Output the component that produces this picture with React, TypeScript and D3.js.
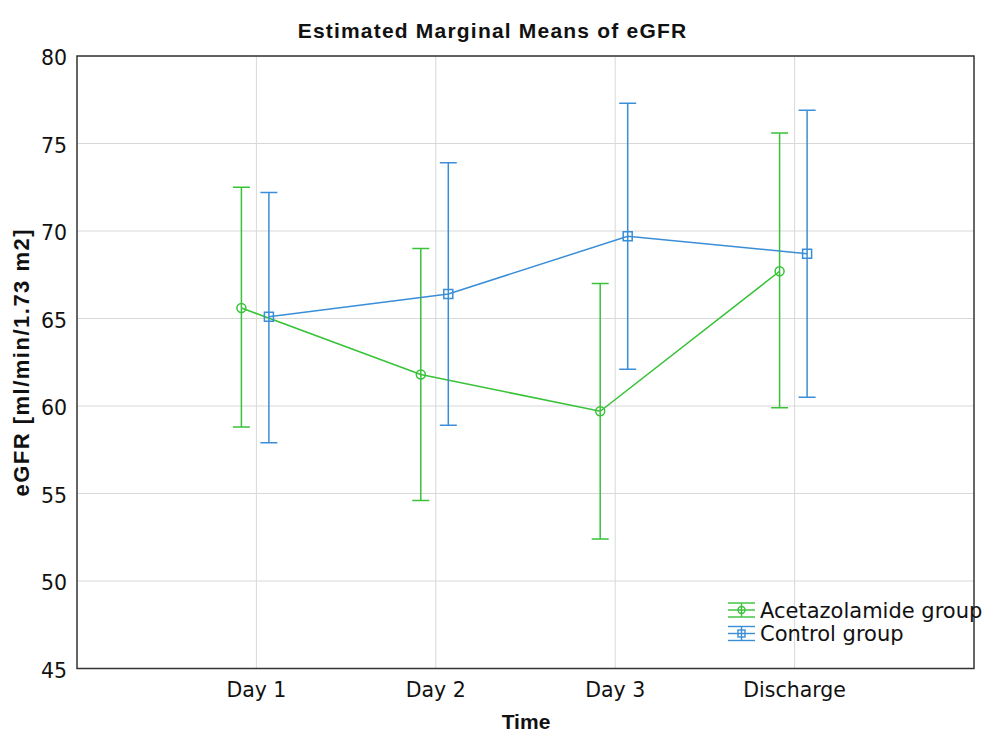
import React, { useEffect, useRef } from "react";
import * as d3 from "d3";

const categories = ["Day 1", "Day 2", "Day 3", "Discharge"];
const yTicks = [45, 50, 55, 60, 65, 70, 75, 80];

const acetaMean = [65.6, 61.8, 59.7, 67.7];
const acetaLow = [58.8, 54.6, 52.4, 59.9];
const acetaHigh = [72.5, 69.0, 67.0, 75.6];

const controlMean = [65.1, 66.4, 69.7, 68.7];
const controlLow = [57.9, 58.9, 62.1, 60.5];
const controlHigh = [72.2, 73.9, 77.3, 76.9];

const seriesNames = ["Acetazolamide group", "Control group"];

const W = 990;
const H = 735;
const plot = { left: 77, right: 974, top: 56, bottom: 668.5 };
const green = "#38c238";
const blue = "#3a8ed8";
const capHalf = 8.5;
const tickFont = "'DejaVu Sans', sans-serif";
const boldFont = "'Liberation Sans', Arial, sans-serif";

interface Pt {
  cat: string;
  mean: number;
  lo: number;
  hi: number;
}

const App = () => {
  const ref = useRef<SVGSVGElement>(null);

  useEffect(() => {
    const svg = d3.select(ref.current);
    svg.selectAll("*").remove();

    const x = d3
      .scalePoint<string>()
      .domain(categories)
      .range([plot.left, plot.right])
      .padding(1);
    const y = d3.scaleLinear().domain([45, 80]).range([plot.bottom, plot.top]);

    // grid
    const grid = svg.append("g").attr("stroke", "#d8d8d8").attr("stroke-width", 1);
    grid
      .selectAll("line.h")
      .data(yTicks)
      .enter()
      .append("line")
      .attr("x1", plot.left)
      .attr("x2", plot.right)
      .attr("y1", (d) => y(d))
      .attr("y2", (d) => y(d));
    grid
      .selectAll("line.v")
      .data(categories)
      .enter()
      .append("line")
      .attr("x1", (d) => x(d)!)
      .attr("x2", (d) => x(d)!)
      .attr("y1", plot.top)
      .attr("y2", plot.bottom);

    // frame
    svg
      .append("rect")
      .attr("x", plot.left)
      .attr("y", plot.top)
      .attr("width", plot.right - plot.left)
      .attr("height", plot.bottom - plot.top)
      .attr("fill", "none")
      .attr("stroke", "#333")
      .attr("stroke-width", 1.5);

    // y tick labels
    svg
      .selectAll("text.yt")
      .data(yTicks)
      .enter()
      .append("text")
      .attr("x", 67)
      .attr("y", (d) => y(d) + 2)
      .attr("text-anchor", "end")
      .attr("dominant-baseline", "central")
      .attr("font-family", tickFont)
      .attr("font-size", 20.5)
      .attr("fill", "#111")
      .text((d) => d);

    // x tick labels
    svg
      .selectAll("text.xt")
      .data(categories)
      .enter()
      .append("text")
      .attr("x", (d) => x(d)!)
      .attr("y", 697)
      .attr("text-anchor", "middle")
      .attr("font-family", tickFont)
      .attr("font-size", 20.5)
      .attr("fill", "#111")
      .text((d) => d);

    const series = [
      { name: seriesNames[0], color: green, offset: -15, mean: acetaMean, lo: acetaLow, hi: acetaHigh, shape: "circle" },
      { name: seriesNames[1], color: blue, offset: 12.5, mean: controlMean, lo: controlLow, hi: controlHigh, shape: "square" },
    ];

    series.forEach((s) => {
      const pts: Pt[] = categories.map((c, i) => ({ cat: c, mean: s.mean[i], lo: s.lo[i], hi: s.hi[i] }));
      const px = (d: Pt) => x(d.cat)! + s.offset;
      const g = svg.append("g").attr("stroke", s.color).attr("stroke-width", 1.5).attr("fill", "none");

      g.append("path")
        .datum(pts)
        .attr(
          "d",
          d3
            .line<Pt>()
            .x(px)
            .y((d) => y(d.mean))
        );

      const eb = g.selectAll("g.eb").data(pts).enter().append("g");
      eb.append("line")
        .attr("x1", px)
        .attr("x2", px)
        .attr("y1", (d) => y(d.lo))
        .attr("y2", (d) => y(d.hi));
      eb.append("line")
        .attr("x1", (d) => px(d) - capHalf)
        .attr("x2", (d) => px(d) + capHalf)
        .attr("y1", (d) => y(d.lo))
        .attr("y2", (d) => y(d.lo));
      eb.append("line")
        .attr("x1", (d) => px(d) - capHalf)
        .attr("x2", (d) => px(d) + capHalf)
        .attr("y1", (d) => y(d.hi))
        .attr("y2", (d) => y(d.hi));

      if (s.shape === "circle") {
        eb.append("circle")
          .attr("cx", px)
          .attr("cy", (d) => y(d.mean))
          .attr("r", 4.5);
      } else {
        eb.append("rect")
          .attr("x", (d) => px(d) - 4.5)
          .attr("y", (d) => y(d.mean) - 4.5)
          .attr("width", 9)
          .attr("height", 9);
      }
    });

    // legend
    series.forEach((s, i) => {
      const cy = 610 + i * 23.5;
      const lx = 728;
      const lw = 27;
      const cx = lx + lw / 2;
      const g = svg.append("g").attr("stroke", s.color).attr("stroke-width", 1.4).attr("fill", "none");
      [-7, 0, 7].forEach((dy) => {
        g.append("line").attr("x1", lx).attr("x2", lx + lw).attr("y1", cy + dy).attr("y2", cy + dy);
      });
      g.append("line").attr("x1", cx).attr("x2", cx).attr("y1", cy - 7).attr("y2", cy + 7);
      if (s.shape === "circle") {
        g.append("circle").attr("cx", cx).attr("cy", cy).attr("r", 3.5);
      } else {
        g.append("rect").attr("x", cx - 3.5).attr("y", cy - 3.5).attr("width", 7).attr("height", 7);
      }
      svg
        .append("text")
        .attr("x", 760)
        .attr("y", cy + 7.5)
        .attr("font-family", tickFont)
        .attr("font-size", 21)
        .attr("fill", "#111")
        .text(s.name);
    });

    // titles
    svg
      .append("text")
      .attr("x", 492.5)
      .attr("y", 38)
      .attr("text-anchor", "middle")
      .attr("font-family", boldFont)
      .attr("font-weight", "bold")
      .attr("font-size", 21)
      .attr("letter-spacing", 1.2)
      .attr("fill", "#111")
      .text("Estimated Marginal Means of eGFR");

    svg
      .append("text")
      .attr("x", 526)
      .attr("y", 729)
      .attr("text-anchor", "middle")
      .attr("font-family", boldFont)
      .attr("font-weight", "bold")
      .attr("font-size", 21)
      .attr("fill", "#111")
      .text("Time");

    svg
      .append("text")
      .attr("transform", `translate(29, ${(plot.top + plot.bottom) / 2}) rotate(-90)`)
      .attr("text-anchor", "middle")
      .attr("font-family", boldFont)
      .attr("font-weight", "bold")
      .attr("font-size", 22)
      .attr("letter-spacing", 1.5)
      .attr("fill", "#111")
      .text("eGFR [ml/min/1.73 m2]");
  }, []);

  return (
    <svg
      ref={ref}
      width={W}
      height={H}
      style={{ position: "absolute", left: 0, top: 0, background: "#fff" }}
    ></svg>
  );
};

export default App;
